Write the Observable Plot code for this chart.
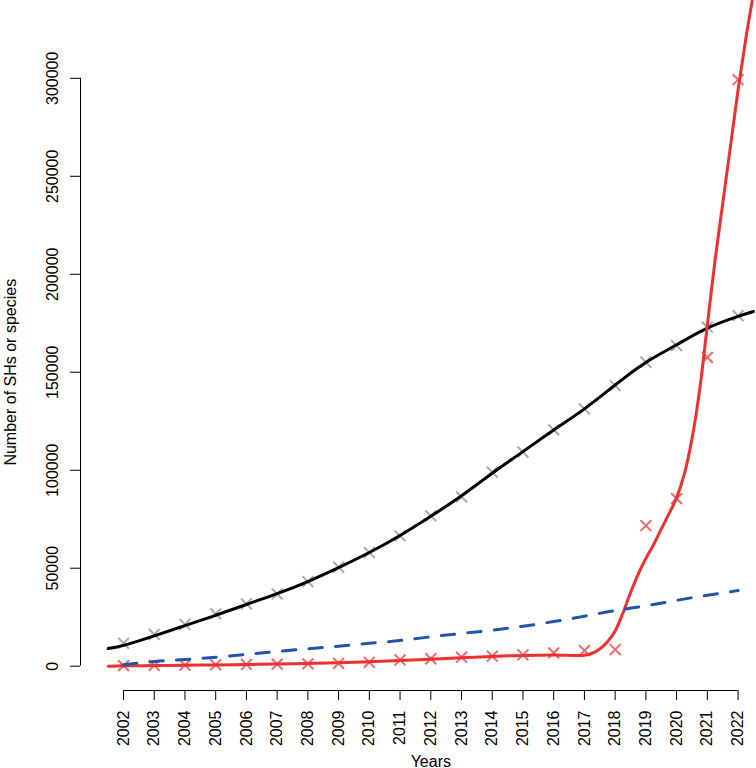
<!DOCTYPE html>
<html>
<head>
<meta charset="utf-8">
<script src="https://cdn.jsdelivr.net/npm/d3@7"></script>
<script src="https://cdn.jsdelivr.net/npm/@observablehq/plot@0.6"></script>
<style>
  html, body { margin: 0; padding: 0; background: #fff; }
  #chart svg { display: block; }
</style>
</head>
<body>
<div id="chart"></div>
<script>
// ---- Data ----
const years = [2002, 2003, 2004, 2005, 2006, 2007, 2008, 2009, 2010, 2011, 2012,
               2013, 2014, 2015, 2016, 2017, 2018, 2019, 2020, 2021, 2022];

// Observed SH counts (gray crosses)
const shCounts = [11700, 16200, 21300, 26700, 31800, 36900, 43200, 50500, 58000, 66500, 76700,
                  86400, 99000, 109300, 120600, 131300, 143200, 155100, 163600, 173000, 178900];

// Observed species counts (red crosses)
const speciesCounts = [300, 400, 500, 700, 900, 1000, 1200, 1500, 2000, 3200, 3800,
                       4600, 5100, 5800, 6800, 8000, 8500, 71700, 85500, 157600, 299300];

// Smoothed fit for SHs (black line)
const shFitYears = [2001.5, 2002, 2003, 2004, 2005, 2006, 2007, 2008, 2009, 2010, 2011, 2012,
                    2013, 2014, 2015, 2016, 2017, 2018, 2019, 2020, 2021, 2022, 2022.5];
const shFit = [9000, 10600, 15500, 20700, 26000, 31500, 37000, 43200, 50300, 58000, 66700, 76500,
               87000, 98500, 109500, 120500, 131300, 143500, 155000, 164000, 172500, 178500, 181000];

// Smoothed fit for species (red line)
const spFitYears = [2001.5, 2002, 2003, 2004, 2005, 2006, 2007, 2008, 2009, 2010, 2011, 2012,
                    2013, 2014, 2015, 2016, 2017, 2017.25, 2017.5, 2017.75, 2018, 2018.25, 2018.5, 2018.75,
                    2019, 2019.25, 2019.5, 2019.75, 2020, 2020.25, 2020.5, 2020.75, 2021,
                    2021.25, 2021.5, 2021.75, 2022, 2022.25, 2022.5];
const spFit = [0, 200, 300, 450, 650, 850, 1100, 1400, 1800, 2300, 2900, 3600,
               4300, 5000, 5500, 5700, 5600, 6600, 8800, 12500, 18000, 27000, 37500, 47000,
               55000, 62000, 70000, 77700, 86000, 98000, 116000, 141000, 174000,
               207000, 236000, 265000, 294000, 320000, 343000];

// Dashed blue trend
const trend = [700, 2400, 3400, 4600, 6000, 7500, 8900, 10200, 11700, 13100, 15000,
               16700, 18400, 20400, 22800, 25500, 28400, 30800, 33600, 36200, 38600];

const yTicks = [0, 50000, 100000, 150000, 200000, 250000, 300000];

const xLabel = "Years";
const yLabel = "Number of SHs or species";

// ---- Tables for the marks ----
const obsSH = years.map((x, i) => ({x, y: shCounts[i]}));
const obsSp = years.map((x, i) => ({x, y: speciesCounts[i]}));
const fitSH = shFitYears.map((x, i) => ({x, y: shFit[i]}));
const fitSp = spFitYears.map((x, i) => ({x, y: spFit[i]}));
const trendT = years.map((x, i) => ({x, y: trend[i]}));

const xLim = [2000.6, 2022.6];
const yLim = [-12400, 339700];
const font = "'Liberation Sans', Arial, Helvetica, sans-serif";

const chart = Plot.plot({
  width: 756,
  height: 768,
  marginLeft: 80,
  marginRight: 0,
  marginTop: 0,
  marginBottom: 78,
  style: {fontFamily: font, fontSize: "16px", color: "#000", background: "#fff"},
  x: {domain: xLim},
  y: {domain: yLim},
  marks: [
    // axes
    Plot.ruleX([xLim[0]], {y1: yTicks[0], y2: yTicks[yTicks.length - 1], stroke: "#000", strokeWidth: 1}),
    Plot.ruleY([yLim[0]], {x1: years[0], x2: years[years.length - 1], stroke: "#000", strokeWidth: 1}),
    Plot.axisY(yTicks, {
      anchor: "left", tickSize: 10, tickPadding: 13, tickRotate: -90,
      textAnchor: "middle", lineAnchor: "bottom",
      tickFormat: d => String(d), label: null, fontSize: 16
    }),
    Plot.axisX(years, {
      anchor: "bottom", tickSize: 10, tickPadding: 10, tickRotate: -90,
      textAnchor: "end", lineAnchor: "middle",
      tickFormat: d => String(d), label: null, fontSize: 16
    }),
    Plot.text([yLabel], {
      frameAnchor: "left", y: [(yTicks[0] + yTicks[yTicks.length - 1]) / 2],
      text: d => d, rotate: -90, textAnchor: "middle", lineAnchor: "bottom",
      dx: -65, fontSize: 16
    }),
    Plot.text([xLabel], {
      frameAnchor: "bottom", x: [(years[0] + years[years.length - 1]) / 2],
      text: d => d, textAnchor: "middle", lineAnchor: "bottom",
      dy: 76, fontSize: 16
    }),
    // observed points
    Plot.dot(obsSH, {x: "x", y: "y", symbol: "times", r: 5, stroke: "#AAAAAA", strokeWidth: 2}),
    Plot.dot(obsSp, {x: "x", y: "y", symbol: "times", r: 5, stroke: "#F26A6A", strokeWidth: 2}),
    // fitted lines
    Plot.line(fitSH, {x: "x", y: "y", curve: "natural", stroke: "#000", strokeWidth: 3}),
    Plot.line(fitSp, {x: "x", y: "y", curve: "catmull-rom", stroke: "#EE3030", strokeWidth: 3}),
    Plot.line(trendT, {x: "x", y: "y", curve: "natural", stroke: "#2255AA", strokeWidth: 3,
                       strokeDasharray: "13.3,13.3"})
  ]
});

document.getElementById("chart").appendChild(chart);
</script>
</body>
</html>
